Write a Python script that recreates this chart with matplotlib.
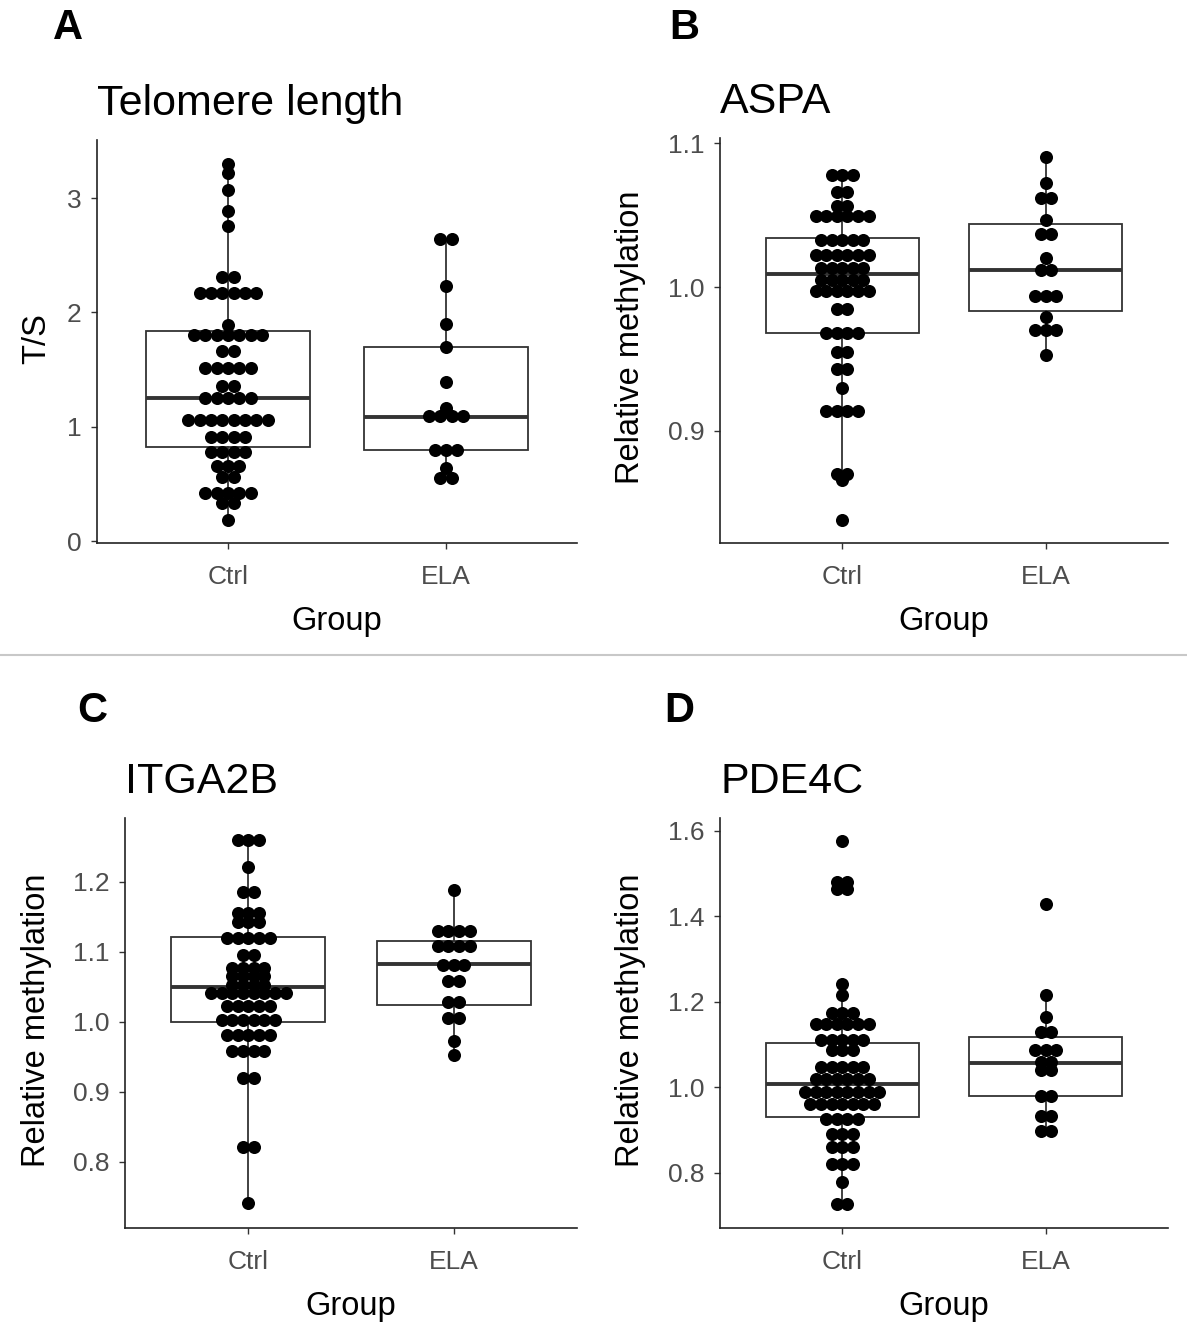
import numpy as np
import matplotlib
matplotlib.use("Agg")
import matplotlib.pyplot as plt
from matplotlib.lines import Line2D

plt.rcParams['font.family'] = ['Liberation Sans', 'DejaVu Sans']

groups = ['Ctrl', 'ELA']

# dot values (repeats = dots stacked side by side)
tel_ctrl = [3.30, 3.22, 3.07, 2.89, 2.76, 2.31, 2.31] + [2.17] * 6 + [1.89] + [1.80] * 7 + \
    [1.66] * 2 + [1.51] * 5 + [1.36] * 2 + [1.25] * 5 + [1.06] * 8 + [0.91] * 4 + \
    [0.78] * 4 + [0.66] * 3 + [0.56] * 2 + [0.42] * 5 + [0.33] * 2 + [0.18]
tel_ela = [2.64, 2.64, 2.23, 1.90, 1.70, 1.39, 1.16] + [1.09] * 4 + [0.80] * 3 + [0.64] + [0.55] * 2

aspa_ctrl = [1.078] * 3 + [1.066] * 2 + [1.056] * 2 + [1.049] * 6 + [1.033] * 5 + [1.022] * 6 + \
    [1.013] * 5 + [1.005] * 5 + [0.997] * 6 + [0.985] * 2 + [0.968] * 4 + [0.955] * 2 + \
    [0.943] * 2 + [0.930] + [0.914] * 4 + [0.870] * 2 + [0.866] + [0.838]
aspa_ela = [1.0905, 1.072, 1.062, 1.062, 1.0465, 1.037, 1.037, 1.020, 1.012, 1.012] + \
    [0.994] * 3 + [0.979] + [0.970] * 3 + [0.953]

itga_ctrl = [1.259] * 3 + [1.221] + [1.185] * 2 + [1.155] * 3 + [1.143] * 3 + [1.120] * 5 + \
    [1.096] * 2 + [1.077] * 4 + [1.065] * 4 + [1.053] * 4 + [1.041] * 8 + [1.022] * 5 + \
    [1.003] * 6 + [0.981] * 5 + [0.958] * 4 + [0.920] * 2 + [0.822] * 2 + [0.741]
itga_ela = [1.1876] + [1.129] * 4 + [1.1076] * 4 + [1.081] * 3 + [1.058] * 2 + [1.029] * 2 + \
    [1.005] * 2 + [0.972, 0.953]

pde_ctrl = [1.577, 1.480, 1.480, 1.465, 1.465, 1.243, 1.215] + [1.173] * 3 + [1.149] * 6 + \
    [1.110] * 5 + [1.087] * 3 + [1.048] * 5 + [1.020] * 6 + [0.989] * 8 + [0.962] * 7 + \
    [0.927] * 4 + [0.892] * 3 + [0.860] * 3 + [0.821] * 3 + [0.778] + [0.728] * 2
pde_ela = [1.430, 1.215, 1.165, 1.130, 1.130] + [1.087] * 3 + [1.059] * 2 + [1.040] * 2 + \
    [0.981] * 2 + [0.934] * 2 + [0.899] * 2

# box stats: whisker low, q1, median, q3, whisker high
tel_box = [[0.18, 0.82, 1.25, 1.837, 3.30], [0.55, 0.80, 1.085, 1.70, 2.64]]
aspa_box = [[0.866, 0.968, 1.009, 1.034, 1.078], [0.953, 0.983, 1.012, 1.044, 1.0905]]
itga_box = [[0.741, 1.000, 1.050, 1.121, 1.259], [0.953, 1.024, 1.083, 1.116, 1.1876]]
pde_box = [[0.728, 0.932, 1.009, 1.103, 1.243], [0.899, 0.981, 1.056, 1.119, 1.215]]

W, H = 1187, 1338
fig = plt.figure(figsize=(W / 100, H / 100), dpi=100)

panels = [
    # letter, title, ylabel, data, box, axes box (l, t, r, b) in px, ylim, yticks, labels
    ('A', 'Telomere length', 'T/S', (tel_ctrl, tel_ela), tel_box, (97, 140, 577, 543),
     (-0.017, 3.508), [0, 1, 2, 3], ['0', '1', '2', '3']),
    ('B', 'ASPA', 'Relative methylation', (aspa_ctrl, aspa_ela), aspa_box, (720, 138, 1168, 543),
     (0.8222, 1.1035), [0.9, 1.0, 1.1], ['0.9', '1.0', '1.1']),
    ('C', 'ITGA2B', 'Relative methylation', (itga_ctrl, itga_ela), itga_box, (125, 818, 577, 1228),
     (0.7057, 1.291), [0.8, 0.9, 1.0, 1.1, 1.2], ['0.8', '0.9', '1.0', '1.1', '1.2']),
    ('D', 'PDE4C', 'Relative methylation', (pde_ctrl, pde_ela), pde_box, (720, 818, 1168, 1228),
     (0.6713, 1.630), [0.8, 1.0, 1.2, 1.4, 1.6], ['0.8', '1.0', '1.2', '1.4', '1.6']),
]

letter_pos = {'A': (68, 28), 'B': (684, 28), 'C': (92, 711), 'D': (679, 711)}

dx = 0.052  # horizontal dot spacing in category units

for letter, title, ylab, data, box, (l, t, r, b), ylim, yt, ytl in panels:
    ax = fig.add_axes([l / W, 1 - b / H, (r - l) / W, (b - t) / H])
    stats = []
    for s in box:
        stats.append({'whislo': s[0], 'q1': s[1], 'med': s[2], 'q3': s[3], 'whishi': s[4],
                      'fliers': []})
    ax.bxp(stats, positions=[1, 2], widths=0.75, showfliers=False, showcaps=False,
           patch_artist=True,
           boxprops=dict(facecolor='white', edgecolor='#333333', linewidth=1.3),
           whiskerprops=dict(color='#333333', linewidth=1.3),
           medianprops=dict(color='#333333', linewidth=2.8))
    for i, vals in enumerate(data):
        v = np.array(vals)
        uniq, counts = np.unique(v, return_counts=True)
        xs, ys = [], []
        for u, n in zip(uniq, counts):
            for k in range(n):
                xs.append(i + 1 + (k - (n - 1) / 2) * dx)
                ys.append(u)
        ax.plot(xs, ys, 'o', color='black', markersize=9.4, markeredgewidth=0, zorder=5)
    ax.set_xlim(0.4, 2.6)
    ax.set_ylim(*ylim)
    ax.set_xticks([1, 2])
    ax.set_xticklabels(groups)
    ax.set_yticks(yt)
    ax.set_yticklabels(ytl)
    ax.tick_params(labelsize=19, colors='#333333', labelcolor='#4d4d4d', length=4, width=1)
    ax.tick_params(axis='x', pad=12)
    ax.tick_params(axis='y', pad=7)
    for sp in ['top', 'right']:
        ax.spines[sp].set_visible(False)
    for sp in ['left', 'bottom']:
        ax.spines[sp].set_linewidth(1.2)
        ax.spines[sp].set_color('#222222')
    ax.set_facecolor('white')

    # titles and labels in pixel places
    fig.text(l / W, 1 - (t - 25) / H, title, fontsize=31, ha='left', va='baseline')
    fig.text((l + r) / 2 / W, 1 - (b + 87) / H, 'Group', fontsize=23.5, ha='center', va='baseline')
    ylx = 37 if l < 300 else 631
    fig.text(ylx / W, 1 - ((t + b) / 2 - 3) / H, ylab, fontsize=23.5, rotation=90,
             ha='center', va='center')
    lx, ly = letter_pos[letter]
    fig.text(lx / W, 1 - ly / H, letter, fontsize=30, fontweight='bold', ha='center', va='center')

# grey rule between the two halves
fig.add_artist(Line2D([0, 1], [1 - 655 / H, 1 - 655 / H], color='#c8c8c8', linewidth=1.5))

fig.savefig('out.png', dpi=100)
